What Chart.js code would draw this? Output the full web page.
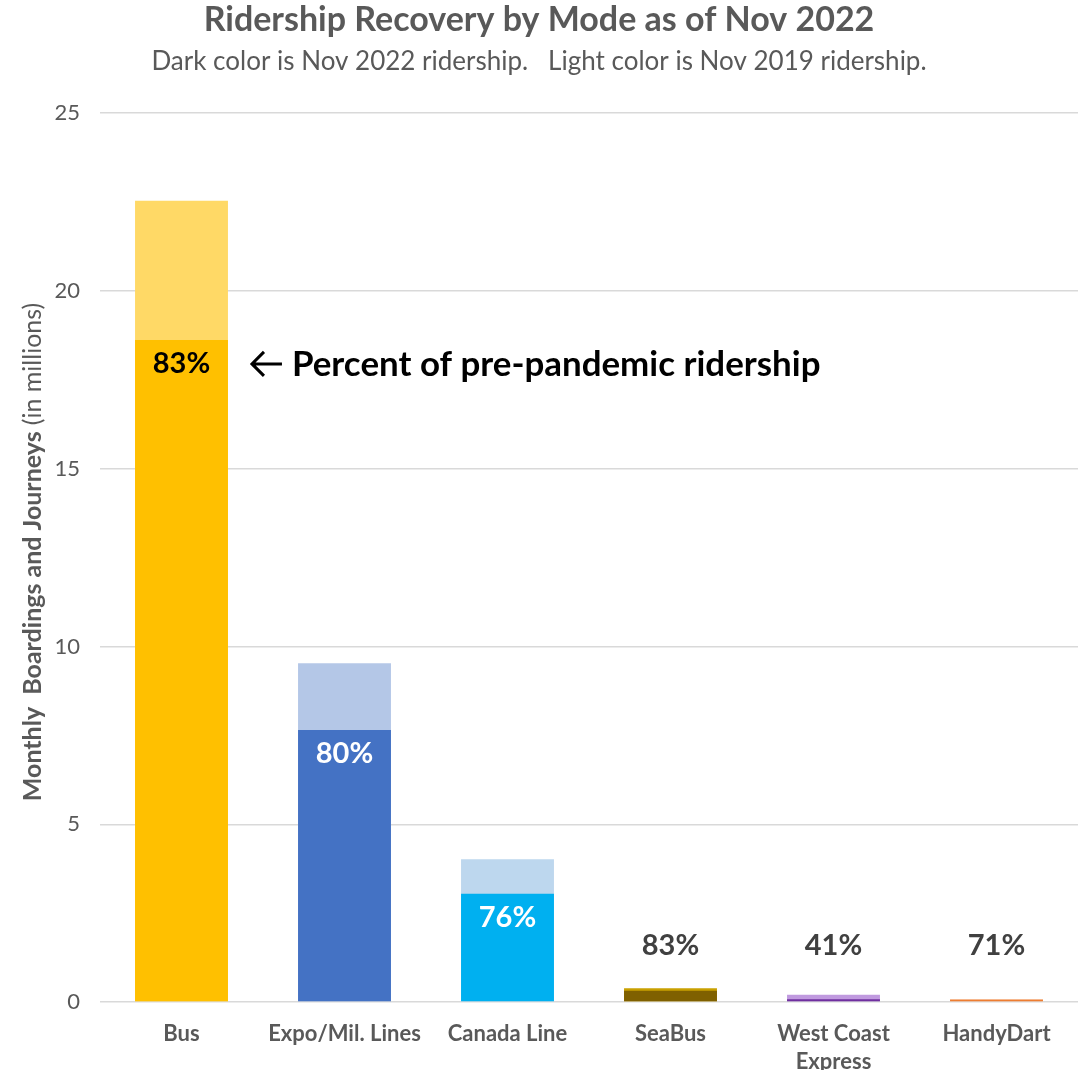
<!DOCTYPE html>
<html>
<head>
<meta charset="utf-8">
<script src="https://cdn.jsdelivr.net/npm/chart.js@4.4.0/dist/chart.umd.min.js"></script>
<style>
  html, body { margin: 0; padding: 0; background: #fff; }
  #wrap { width: 1082px; height: 1070px; }
</style>
</head>
<body>
<div id="wrap"><canvas id="ridershipChart"></canvas></div>
<script>
// modes and values (millions of monthly boardings)
const modes = ['Bus', 'Expo/Mil. Lines', 'Canada Line', 'SeaBus', ['West Coast', 'Express'], 'HandyDart'];
const nov2019 = [22.53, 9.53, 4.02, 0.39, 0.21, 0.09];
const nov2022 = [18.62, 7.65, 3.05, 0.32, 0.08, 0.065];
const percentLabels = ['83%', '80%', '76%', '83%', '41%', '71%'];
const yTicks = [0, 5, 10, 15, 20, 25];

const darkColors = ['#FFC000', '#4472C4', '#00B0F0', '#7F6000', '#7030A0', '#ED7D31'];
const lightColors = ['#FFD966', '#B4C7E7', '#BDD7EE', '#C9A000', '#C09ADF', '#F8CBAD'];
const labelColors = ['#000000', '#FFFFFF', '#FFFFFF', '#404040', '#404040', '#404040'];

const FONT = 'Lato, "Open Sans", sans-serif';
const GREY = '#595959';

// draws the percent labels, the note and the y axis title
const extrasPlugin = {
    id: 'extras',
    afterDatasetsDraw(chart) {
        const ctx = chart.ctx;
        const meta = chart.getDatasetMeta(1);
        const yScale = chart.scales.y;
        ctx.save();
        ctx.font = 'bold 29px ' + FONT;
        ctx.textAlign = 'center';
        ctx.textBaseline = 'middle';
        meta.data.forEach((bar, i) => {
            let y = bar.y + 24;
            if (bar.base - bar.y < 60) {
                y = yScale.getPixelForValue(1.6);
            }
            ctx.fillStyle = labelColors[i];
            ctx.fillText(percentLabels[i], bar.x, y);
        });

        // note next to the bus bar
        const busBar = meta.data[0];
        const noteY = busBar.y + 24;
        const ax = busBar.x + busBar.width / 2 + 24;
        ctx.strokeStyle = '#000';
        ctx.lineWidth = 3;
        ctx.beginPath();
        ctx.moveTo(ax, noteY);
        ctx.lineTo(ax + 30, noteY);
        ctx.moveTo(ax + 12, noteY - 12);
        ctx.lineTo(ax, noteY);
        ctx.lineTo(ax + 12, noteY + 12);
        ctx.stroke();
        const note = 'Percent of pre-pandemic ridership';
        let size = 32;
        ctx.font = 'bold ' + size + 'px ' + FONT;
        size = size * 528 / ctx.measureText(note).width;
        ctx.font = 'bold ' + size.toFixed(1) + 'px ' + FONT;
        ctx.fillStyle = '#000';
        ctx.textAlign = 'left';
        ctx.fillText(note, ax + 40, noteY + 1);

        // y axis title, bold part + normal part
        const a = 'Monthly  Boardings and Journeys ';
        const b = '(in millions)';
        ctx.translate(33, 552);
        ctx.rotate(-Math.PI / 2);
        ctx.fillStyle = GREY;
        ctx.font = 'bold 25px ' + FONT;
        const wa = ctx.measureText(a).width;
        ctx.font = '25px ' + FONT;
        const wb = ctx.measureText(b).width;
        const start = -(wa + wb) / 2;
        ctx.textAlign = 'left';
        ctx.font = 'bold 25px ' + FONT;
        ctx.fillText(a, start, 0);
        ctx.font = '25px ' + FONT;
        ctx.fillText(b, start + wa, 0);
        ctx.restore();
    }
};

const ctx = document.getElementById('ridershipChart').getContext('2d');
new Chart(ctx, {
    type: 'bar',
    data: {
        labels: modes,
        datasets: [
            {
                label: 'Nov 2019',
                data: nov2019,
                backgroundColor: lightColors,
                grouped: false,
                order: 2,
                categoryPercentage: 1,
                barPercentage: 0.57
            },
            {
                label: 'Nov 2022',
                data: nov2022,
                backgroundColor: darkColors,
                grouped: false,
                order: 1,
                categoryPercentage: 1,
                barPercentage: 0.57
            }
        ]
    },
    options: {
        responsive: true,
        maintainAspectRatio: false,
        animation: false,
        layout: { padding: { left: 0, right: 4, top: 0, bottom: -24 } },
        plugins: {
            legend: { display: false },
            tooltip: { enabled: false },
            title: {
                display: true,
                text: 'Ridership Recovery by Mode as of Nov 2022',
                color: GREY,
                font: { family: FONT, size: 34, weight: 'bold' },
                padding: { top: 0, bottom: 5 }
            },
            subtitle: {
                display: true,
                text: 'Dark color is Nov 2022 ridership.   Light color is Nov 2019 ridership.',
                color: GREY,
                font: { family: FONT, size: 26 },
                padding: { bottom: 36 }
            }
        },
        scales: {
            x: {
                grid: { display: false, drawTicks: false },
                border: { display: false },
                ticks: {
                    color: GREY,
                    font: { family: FONT, size: 22, weight: 'bold', lineHeight: 1.27 },
                    padding: 18,
                    maxRotation: 0,
                    autoSkip: false
                }
            },
            y: {
                min: 0,
                max: 25,
                afterBuildTicks: (scale) => { scale.ticks = yTicks.map(v => ({ value: v })); },
                afterFit: (scale) => { scale.width = 100; },
                grid: { color: '#D9D9D9', lineWidth: 1.5, drawTicks: false },
                border: { display: false },
                ticks: {
                    color: GREY,
                    font: { family: FONT, size: 22 },
                    padding: 20
                }
            }
        }
    },
    plugins: [extrasPlugin]
});
</script>
</body>
</html>
